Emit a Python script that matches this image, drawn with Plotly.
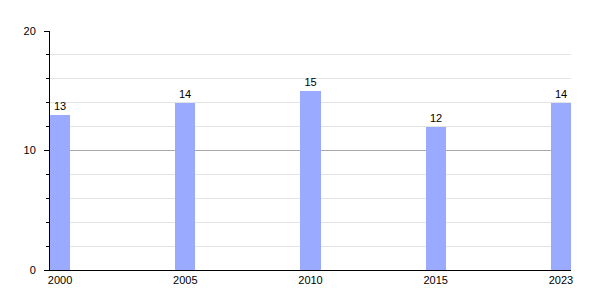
import plotly.graph_objects as go

years = ["2000", "2005", "2010", "2015", "2023"]
values = [13, 14, 15, 12, 14]

fig = go.Figure(go.Bar(
    x=years, y=values,
    marker=dict(color="#99aaff", line=dict(width=0)),
    width=0.16,
    texttemplate="%{y}", textposition="outside",
    textfont=dict(size=11, color="black", family="Liberation Sans, Arial"),
    cliponaxis=False,
))

fig.update_layout(
    width=600, height=300,
    margin=dict(l=50, r=29, t=31, b=30),
    paper_bgcolor="white", plot_bgcolor="white",
    font=dict(family="Liberation Sans, Arial", size=11, color="black"),
    showlegend=False,
    bargap=0,
)
fig.update_xaxes(
    type="category", range=[-0.08, 4.08],
    showline=True, linecolor="black", linewidth=1,
    showgrid=False, ticks="", tickfont=dict(size=11),
)
fig.update_yaxes(
    range=[0, 20], dtick=10, tick0=0,
    showline=True, linecolor="black", linewidth=1,
    showgrid=True, gridcolor="#a8a8a8", gridwidth=1,
    zeroline=False,
    ticks="outside", ticklen=5, tickcolor="black",
    ticklabelstandoff=6,
    tickfont=dict(size=11),
    minor=dict(dtick=2, showgrid=True, gridcolor="#e4e4e4", ticks="outside", ticklen=3, tickcolor="black"),
)

fig.write_html("out.html")
